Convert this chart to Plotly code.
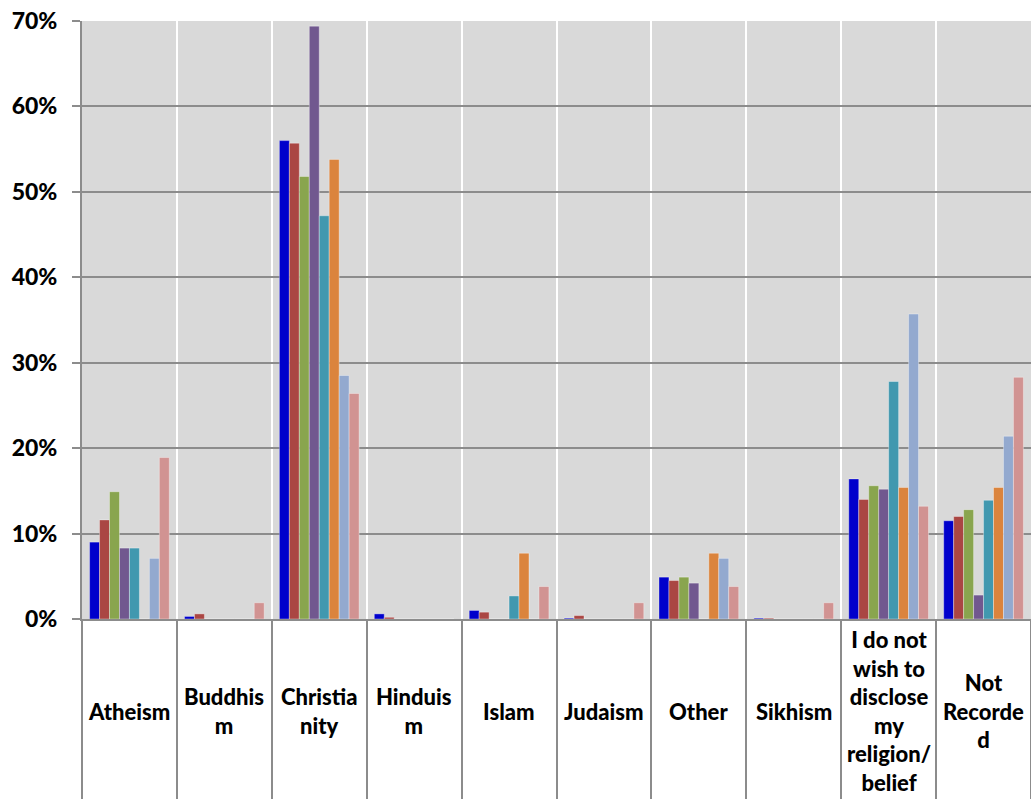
import plotly.graph_objects as go

# Religion / belief categories (line breaks as they wrap in the column cells)
categories = [
    "Atheism", "Buddhis<br>m", "Christia<br>nity", "Hinduis<br>m", "Islam",
    "Judaism", "Other", "Sikhism",
    "I do not<br>wish to<br>disclose<br>my<br>religion/<br>belief",
    "Not<br>Recorde<br>d",
]

# Share of each group per category (fractions)
s1 = [0.090, 0.003, 0.560, 0.006, 0.010, 0.001, 0.049, 0.001, 0.164, 0.115]
s2 = [0.116, 0.006, 0.557, 0.002, 0.008, 0.004, 0.045, 0.001, 0.140, 0.120]
s3 = [0.149, 0.000, 0.518, 0.000, 0.000, 0.000, 0.049, 0.000, 0.156, 0.128]
s4 = [0.083, 0.000, 0.694, 0.000, 0.000, 0.000, 0.042, 0.000, 0.152, 0.028]
s5 = [0.083, 0.000, 0.472, 0.000, 0.027, 0.000, 0.000, 0.000, 0.278, 0.139]
s6 = [0.000, 0.000, 0.538, 0.000, 0.077, 0.000, 0.077, 0.000, 0.154, 0.154]
s7 = [0.071, 0.000, 0.285, 0.000, 0.000, 0.000, 0.071, 0.000, 0.357, 0.214]
s8 = [0.189, 0.019, 0.264, 0.000, 0.038, 0.019, 0.038, 0.019, 0.132, 0.283]

series = [s1, s2, s3, s4, s5, s6, s7, s8]
colors = ["#0000CC", "#AA4643", "#89A54E", "#71588F",
          "#4198AF", "#DB843D", "#93A9CF", "#D19392"]

tick_vals = [0, 0.1, 0.2, 0.3, 0.4, 0.5, 0.6, 0.7]

FONT = "Lato"
GRAY = "#8C8C8C"

fig = go.Figure()
for vals, col in zip(series, colors):
    fig.add_trace(go.Bar(
        x=categories, y=vals,
        marker=dict(color=col, line=dict(color="rgba(255,255,255,0.35)", width=1)),
        showlegend=False,
    ))

# Category labels centred in the cell area beneath the plot
for cat in categories:
    fig.add_annotation(
        x=cat, xref="x", y=0, yref="paper", yshift=-92,
        text=cat, showarrow=False,
        xanchor="center", yanchor="middle", align="center",
        font=dict(family=FONT, size=22, color="black", weight=900),
    )

fig.update_layout(
    width=1031, height=799,
    margin=dict(l=82, r=0, t=21, b=180),
    paper_bgcolor="white",
    plot_bgcolor="#D9D9D9",
    barmode="group",
    bargap=0.16,
    bargroupgap=0,
    font=dict(family=FONT, size=22, color="black"),
)

fig.update_xaxes(
    type="category",
    range=[-0.5, len(categories) - 0.5],
    tickson="boundaries",
    showgrid=True, gridcolor="white", gridwidth=2,
    ticks="outside", ticklen=180, tickwidth=2, tickcolor=GRAY,
    showticklabels=False,
    showline=True, linecolor=GRAY, linewidth=2,
    zeroline=False,
)

fig.update_yaxes(
    range=[0, 0.7],
    tickvals=tick_vals,
    tickformat=".0%",
    tickfont=dict(family=FONT, size=23, color="black", weight=900),
    ticklabelstandoff=10,
    showgrid=True, gridcolor=GRAY, gridwidth=2,
    ticks="outside", ticklen=8, tickwidth=2, tickcolor=GRAY,
    showline=True, linecolor=GRAY, linewidth=2,
    zeroline=False,
)

fig.write_html("out.html")
